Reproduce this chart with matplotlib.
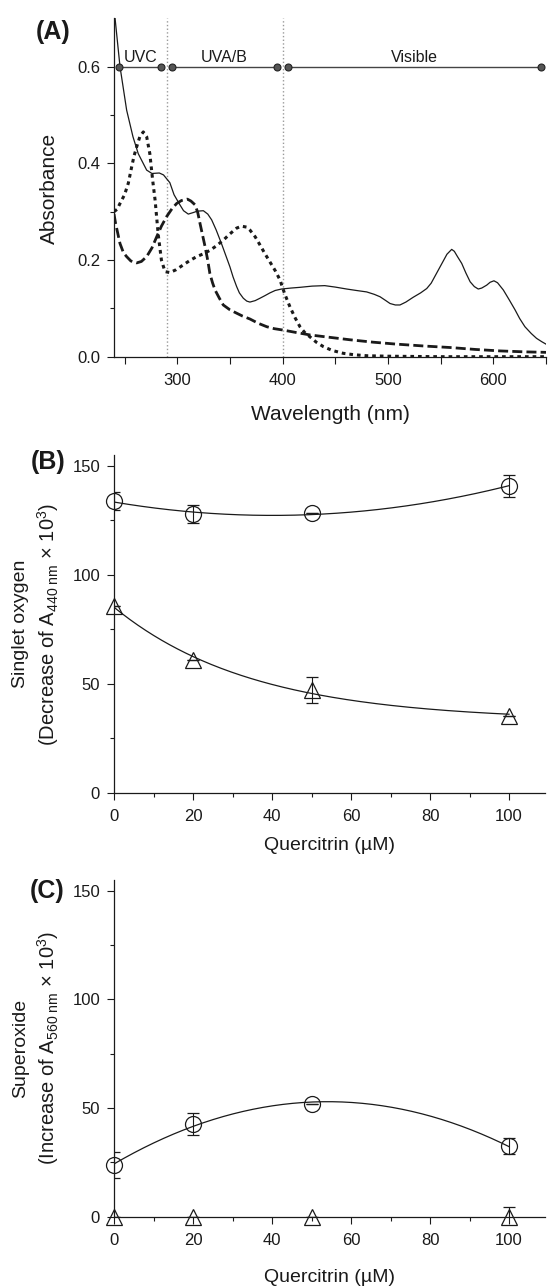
import numpy as np
import matplotlib
matplotlib.use("Agg")
import matplotlib.pyplot as plt
from matplotlib.ticker import MultipleLocator, FixedLocator

plt.rcParams['font.family'] = ['Liberation Sans', 'DejaVu Sans']
plt.rcParams['mathtext.fontset'] = 'custom'
plt.rcParams['mathtext.rm'] = 'Liberation Sans'
plt.rcParams['mathtext.it'] = 'Liberation Sans:italic'

# ---- panel A: absorbance spectra ----
wl_solid = [241, 245.7, 252, 258, 263, 271, 276, 283, 287, 293, 297, 302.6, 306, 310.5,
            315, 319, 324.8, 329, 332.7, 337, 342, 346, 350, 353, 356.4, 359, 362.7, 366,
            369, 374, 378.6, 383, 388, 393, 399, 408, 416.5, 428, 440, 450, 460.8, 470,
            479.8, 487, 492.5, 498, 502, 507, 511.4, 517, 524, 531, 536.8, 541, 546, 551,
            556, 560.5, 563, 566, 570, 574, 578, 582, 585.7, 589, 593.7, 597, 600.6, 604,
            609.5, 615, 620.6, 625, 630, 636, 641, 646, 650]
abs_solid = [0.70, 0.60, 0.51, 0.455, 0.42, 0.386, 0.379, 0.38, 0.376, 0.36, 0.335, 0.314,
             0.302, 0.295, 0.298, 0.301, 0.302, 0.295, 0.283, 0.262, 0.234, 0.21, 0.186,
             0.165, 0.145, 0.132, 0.121, 0.115, 0.113, 0.116, 0.121, 0.126, 0.132, 0.137,
             0.140, 0.142, 0.1435, 0.146, 0.147, 0.144, 0.140, 0.137, 0.134, 0.129, 0.124,
             0.116, 0.110, 0.107, 0.107, 0.113, 0.123, 0.132, 0.141, 0.152, 0.172, 0.192,
             0.212, 0.222, 0.218, 0.207, 0.193, 0.173, 0.155, 0.145, 0.140, 0.142, 0.148,
             0.154, 0.157, 0.153, 0.138, 0.118, 0.097, 0.079, 0.062, 0.048, 0.038, 0.031,
             0.026]

wl_dotted = [240, 243, 245.7, 250, 253.6, 256.8, 259, 261.5, 264.5, 267.8, 271, 274, 276.7,
             279, 282, 285, 288.4, 293, 299, 305.8, 312, 318.5, 325, 331, 337, 343.7, 350,
             356.4, 361, 366, 369, 374, 378.6, 383, 388, 393, 397.5, 402, 407, 412, 416.5,
             421, 426, 432, 438.6, 447, 457.6, 468, 480, 500, 550, 650]
abs_dotted = [0.30, 0.305, 0.317, 0.335, 0.359, 0.393, 0.415, 0.434, 0.455, 0.465, 0.455,
              0.42, 0.365, 0.324, 0.252, 0.20, 0.176, 0.174, 0.18, 0.19, 0.199, 0.207, 0.213,
              0.22, 0.229, 0.241, 0.254, 0.266, 0.27, 0.268, 0.262, 0.248, 0.231, 0.214,
              0.196, 0.178, 0.159, 0.13, 0.103, 0.08, 0.062, 0.05, 0.041, 0.03, 0.021, 0.013,
              0.007, 0.004, 0.002, 0.001, 0.0, 0.0]

wl_dashed = [240, 241.5, 245.7, 249, 252, 256, 261.5, 266, 271, 276, 280.5, 285, 290, 295,
             299.5, 304, 309.6, 313, 317, 319.5, 321.6, 324, 326.4, 329, 331, 333.5, 335.9,
             340, 343.7, 350, 356.4, 362, 369, 377, 385, 392, 400.7, 413, 426, 445, 464, 486,
             508, 535, 559, 583, 606, 630, 650]
abs_dashed = [0.295, 0.276, 0.234, 0.215, 0.207, 0.198, 0.194, 0.197, 0.207, 0.225, 0.248,
              0.27, 0.29, 0.306, 0.317, 0.323, 0.326, 0.322, 0.314, 0.298, 0.276, 0.252,
              0.228, 0.199, 0.172, 0.153, 0.138, 0.121, 0.107, 0.097, 0.09, 0.084, 0.078,
              0.069, 0.062, 0.058, 0.055, 0.05, 0.045, 0.04, 0.035, 0.03, 0.026, 0.022,
              0.019, 0.015, 0.012, 0.010, 0.009]

region_names = ['UVC', 'UVA/B', 'Visible']
region_starts = [245, 295, 405]
region_ends = [285, 395, 645]
region_borders = [290, 400]

# ---- panels B and C: quercitrin concentration series ----
conc = [0, 20, 50, 100]
b_circle = [133.9, 127.8, 128.3, 140.8]
b_circle_err = [4.0, 4.2, 0.0, 5.0]
b_triangle = [85.6, 61.0, 47.3, 35.3]
b_triangle_err = [0.0, 0.0, 6.0, 0.0]
c_circle = [23.7, 42.8, 52.0, 32.4]
c_circle_err = [6.0, 5.0, 0.0, 3.7]
c_triangle = [0.0, 0.0, 0.0, 0.0]
c_triangle_err = [0.0, 0.0, 0.0, 4.6]

W, H = 549, 1288
ink = '#1a1a1a'


def px_axes(left, top, right, bottom):
    return [left / W, 1 - bottom / H, (right - left) / W, (bottom - top) / H]


def fig_text(x, y, s, **kw):
    fig.text(x / W, 1 - y / H, s, ha='center', va='center', **kw)


def style_axis(ax):
    for side in ['top', 'right']:
        ax.spines[side].set_visible(False)
    for side in ['left', 'bottom']:
        ax.spines[side].set_linewidth(0.9)
        ax.spines[side].set_color(ink)
    ax.tick_params(which='major', length=5, width=0.8, labelsize=12, pad=5, colors=ink)
    ax.tick_params(which='minor', length=3, width=0.8, colors=ink)
    ax.tick_params(axis='x', which='major', pad=7)


def exp_fit(x, y):
    # y = a + b*exp(-k x), k by grid search, a and b by least squares
    x = np.asarray(x, float)
    y = np.asarray(y, float)
    best = None
    for k in np.linspace(0.001, 0.2, 2000):
        A = np.column_stack([np.ones_like(x), np.exp(-k * x)])
        coef, *_ = np.linalg.lstsq(A, y, rcond=None)
        err = np.sum((A @ coef - y) ** 2)
        if best is None or err < best[0]:
            best = (err, k, coef)
    _, k, (a, b) = best
    return lambda t: a + b * np.exp(-k * t)


fig = plt.figure(figsize=(W / 100, H / 100), dpi=100)

# ================= (A) =================
axA = fig.add_axes(px_axes(114, 18.3, 546, 356.7))
style_axis(axA)
for xb in region_borders:
    axA.axvline(xb, color='#9a9a9a', ls=':', lw=1.0, zorder=1)
axA.plot(wl_solid, abs_solid, color=ink, lw=0.9, zorder=3)
axA.plot(wl_dotted, abs_dotted, color=ink, lw=2.2, ls=(0, (1.2, 1.3)), zorder=3)
axA.plot(wl_dashed, abs_dashed, color=ink, lw=2.0, ls=(0, (3.6, 1.5)), zorder=3)
for name, s, e in zip(region_names, region_starts, region_ends):
    axA.plot([s, e], [0.6, 0.6], color='#444444', lw=1.0, marker='o', ms=5,
             mfc='#555555', mec='#222222', mew=0.8, zorder=4, clip_on=False)
    axA.text((s + e) / 2, 0.609, name, ha='center', va='baseline', fontsize=11.5, color=ink)
axA.set_xlim(240, 650)
axA.set_ylim(0, 0.7)
axA.xaxis.set_major_locator(FixedLocator([300, 400, 500, 600]))
axA.xaxis.set_minor_locator(FixedLocator([250, 350, 450, 550, 650]))
axA.yaxis.set_major_locator(FixedLocator([0.0, 0.2, 0.4, 0.6]))
axA.yaxis.set_minor_locator(FixedLocator([0.1, 0.3, 0.5]))
axA.set_yticklabels(['0.0', '0.2', '0.4', '0.6'])
axA.tick_params(axis='x', which='minor', length=5)
fig_text(330, 414, 'Wavelength (nm)', fontsize=15, color=ink)
fig_text(49, 188, 'Absorbance', fontsize=15, rotation=90, color=ink)
fig_text(53, 32, '(A)', fontsize=18, fontweight='bold', color=ink)


def conc_panel(ax):
    style_axis(ax)
    ax.set_xlim(0, 109)
    ax.set_ylim(0, 155)
    ax.xaxis.set_major_locator(MultipleLocator(20))
    ax.xaxis.set_minor_locator(MultipleLocator(10))
    ax.yaxis.set_major_locator(MultipleLocator(50))
    ax.yaxis.set_minor_locator(MultipleLocator(25))


def series(ax, y, err, marker, fit=None):
    ax.errorbar(conc, y, yerr=err, fmt='none', ecolor=ink, elinewidth=0.8,
                capsize=4.5, capthick=0.9, zorder=3)
    if fit is not None:
        t = np.linspace(0, 100, 200)
        ax.plot(t, fit(t), color=ink, lw=0.9, zorder=2)
    ax.plot(conc, y, ls='none', marker=marker, ms=11.5, mfc='none', mec=ink,
            mew=0.9, zorder=4, clip_on=False)


# ================= (B) =================
axB = fig.add_axes(px_axes(114, 455, 544.6, 792.7))
conc_panel(axB)
series(axB, b_circle, b_circle_err, 'o', np.poly1d(np.polyfit(conc, b_circle, 2)))
series(axB, b_triangle, b_triangle_err, '^', exp_fit(conc, b_triangle))
fig_text(330, 845, 'Quercitrin (µM)', fontsize=14, color=ink)
fig_text(21, 624, 'Singlet oxygen', fontsize=14, rotation=90, color=ink)
fig_text(48, 624, r'(Decrease of A$_{440\ \mathrm{nm}}$ × 10$^{3}$)', fontsize=14.5,
         rotation=90, color=ink)
fig_text(48, 462, '(B)', fontsize=18, fontweight='bold', color=ink)

# ================= (C) =================
axC = fig.add_axes(px_axes(114, 880, 544.6, 1216.7))
conc_panel(axC)
series(axC, c_circle, c_circle_err, 'o', np.poly1d(np.polyfit(conc, c_circle, 2)))
series(axC, c_triangle, c_triangle_err, '^')
fig_text(330, 1277, 'Quercitrin (µM)', fontsize=14, color=ink)
fig_text(21, 1048, 'Superoxide', fontsize=14, rotation=90, color=ink)
fig_text(48, 1048, r'(Increase of A$_{560\ \mathrm{nm}}$ × 10$^{3}$)', fontsize=14.5,
         rotation=90, color=ink)
fig_text(47, 891, '(C)', fontsize=18, fontweight='bold', color=ink)

fig.savefig('out.png', dpi=100)
